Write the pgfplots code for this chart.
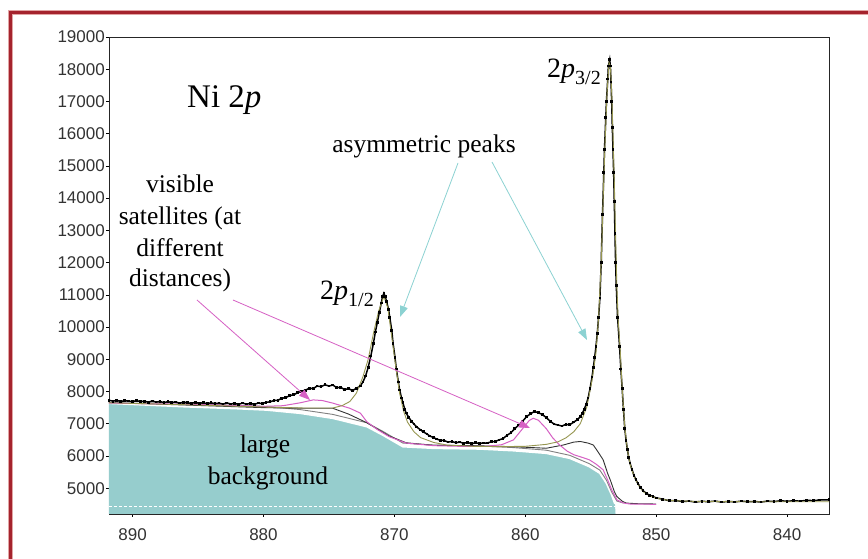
\documentclass[border=0pt]{standalone}
\usepackage{fontspec}
\setmainfont{Liberation Serif}
\newfontfamily\tickfont{Liberation Sans}
\usepackage{pgfplots}
\pgfplotsset{compat=1.18}
\usetikzlibrary{arrows.meta}
\definecolor{bgteal}{RGB}{150,205,205}
\definecolor{fitolive}{RGB}{150,150,80}
\definecolor{satmag}{RGB}{214,96,196}
\definecolor{arrcyan}{RGB}{140,210,210}
\definecolor{frame}{RGB}{165,35,45}
\definecolor{framelt}{RGB}{225,165,165}

\pgfplotstableread{
x y
891.8 7730
891.5 7700
891.2 7725
890.9 7690
890.6 7715
890.3 7705
890.0 7680
889.7 7720
889.4 7685
889.1 7700
888.8 7670
888.5 7705
888.2 7675
887.9 7690
887.6 7655
887.3 7685
887.0 7660
886.7 7675
886.4 7640
886.1 7670
885.8 7650
885.5 7635
885.2 7665
884.9 7630
884.6 7655
884.3 7620
884.0 7650
883.7 7625
883.4 7640
883.1 7610
882.8 7645
882.5 7615
882.2 7630
881.9 7600
881.6 7640
881.3 7610
881.0 7630
880.7 7605
880.4 7640
880.1 7625
879.8 7665
879.5 7680
879.2 7720
878.9 7730
878.6 7790
878.3 7810
878.0 7870
877.7 7900
877.4 7960
877.1 8010
876.8 8040
876.5 8100
876.2 8090
875.9 8170
875.6 8150
875.3 8210
875.0 8170
874.7 8200
874.4 8120
874.1 8130
873.8 8060
873.5 8090
873.2 8030
872.9 8100
872.6 8170
872.4 8300
872.2 8480
872.0 8750
871.8 9100
871.6 9500
871.45 9850
871.3 10150
871.15 10450
871.0 10750
870.9 10950
870.8 11050
870.7 10950
870.6 10800
870.45 10550
870.35 10300
870.2 9900
870.1 9500
869.95 9050
869.85 8700
869.7 8300
869.6 8050
869.45 7800
869.35 7650
869.2 7450
869.1 7330
868.9 7200
868.7 7080
868.5 6990
868.3 6900
868.0 6810
867.8 6750
867.5 6680
867.3 6620
867.0 6570
866.8 6530
866.5 6490
866.2 6480
865.9 6430
865.6 6450
865.3 6410
865.0 6430
864.7 6395
864.4 6420
864.1 6380
863.8 6410
863.5 6385
863.2 6405
862.9 6400
862.6 6440
862.3 6450
862.0 6500
861.7 6540
861.4 6640
861.1 6720
860.8 6850
860.5 6960
860.2 7080
859.9 7220
859.6 7310
859.3 7380
859.0 7340
858.7 7290
858.4 7190
858.1 7080
857.8 6990
857.5 6960
857.2 6930
856.9 6980
856.6 6970
856.3 7050
856.0 7130
855.8 7220
855.65 7320
855.5 7450
855.35 7600
855.2 7800
855.05 8100
854.9 8450
854.8 8750
854.7 9050
854.6 9400
854.5 9800
854.4 10300
854.3 10900
854.2 12000
854.1 13500
854.0 14800
853.95 15500
853.85 16500
853.8 17000
853.7 17700
853.65 18100
853.55 18300
853.5 18100
853.45 17600
853.4 17000
853.35 16200
853.3 15500
853.25 14800
853.2 13900
853.15 12900
853.1 12000
853.05 11300
852.95 10300
852.8 9400
852.7 8700
852.6 8100
852.5 7450
852.4 6850
852.3 6480
852.2 6200
852.1 5960
852.0 5780
851.85 5580
851.7 5400
851.55 5260
851.4 5150
851.2 5020
851.0 4920
850.75 4840
850.5 4780
850.25 4740
850.0 4700
849.5 4660
849.0 4610
848.5 4620
848.0 4585
847.5 4600
847.0 4570
846.5 4595
846.0 4580
845.5 4600
845.0 4570
844.5 4590
844.0 4575
843.5 4600
843.0 4580
842.5 4590
842.0 4570
841.5 4600
841.0 4585
840.5 4610
840.0 4595
839.5 4610
839.0 4600
838.5 4625
838.0 4615
837.5 4635
836.8 4640
}\dataspec

\pgfplotstableread{
x y
891.8 7650
885 7580
880 7520
877 7490
874.7 7490
874.0 7560
873.4 7690
872.9 7950
872.4 8460
872.0 9000
871.6 9800
871.2 10500
870.8 10950
870.5 10600
870.2 9700
869.9 8800
869.6 7950
869.3 7400
869.0 7050
868.5 6750
868.0 6570
867.0 6420
866.0 6340
864.0 6300
862.0 6290
860.0 6300
858.4 6360
857.5 6440
856.9 6560
856.3 6750
855.8 7000
855.3 7520
854.9 8350
854.6 9200
854.4 10300
854.2 12000
854.05 14000
853.9 15800
853.75 17300
853.6 18200
853.5 18100
853.4 17300
853.3 16000
853.2 14500
853.1 12800
853.0 11200
852.9 10200
852.75 9300
852.6 8100
852.4 6900
852.2 6200
852.0 5750
851.7 5380
851.4 5130
851.0 4900
850.5 4760
850.0 4690
849.0 4620
847.0 4590
843.0 4580
839.0 4580
836.8 4580
}\fitenv

\pgfplotstableread{
x y
891.8 7640
885 7600
880 7540
878.5 7560
877.2 7650
876.2 7740
875.5 7720
874.7 7640
873.4 7480
872.6 7330
872.1 7060
871.3 6820
870.4 6600
869.1 6400
867 6320
865 6300
863 6300
861.8 6350
860.9 6500
860.2 6850
859.7 7100
859.4 7170
859.0 7110
858.4 6850
857.9 6560
857.4 6350
856.8 6150
856.3 6040
855.6 5950
855.1 5880
854.6 5750
854.05 5570
853.7 5250
853.4 4950
853.0 4640
852.5 4540
852.0 4510
850.0 4500
}\satline

\pgfplotstableread{
x y
891.8 7660
880 7500
877 7480
874.7 7480
873.5 7300
872.1 7030
870.4 6620
869.1 6410
867 6330
864 6320
861 6290
858.4 6240
857.1 6340
856.3 6430
855.8 6450
855.2 6400
854.8 6340
854.4 6100
854.05 5880
853.7 5450
853.5 5250
853.2 4900
853.0 4740
852.6 4600
852.3 4540
851.5 4520
850.0 4510
}\tailline

\pgfplotstableread{
x y
891.8 7637
886 7530
882 7470
879.8 7429
877.2 7327
874.7 7171
872.1 6911
870.9 6653
869.35 6290
867.0 6241
863.5 6220
860.9 6166
858.4 6086
856.6 5930
855.1 5670
854.3 5465
853.8 5155
853.4 4792
853.15 4513
}\bgedge

\pgfplotstableread{
x y
891.8 4150
891.8 7637
886 7530
882 7470
879.8 7429
877.2 7327
874.7 7171
872.1 6911
870.9 6653
869.35 6290
867.0 6241
863.5 6220
860.9 6166
858.4 6086
856.6 5930
855.1 5670
854.3 5465
853.8 5155
853.4 4792
853.15 4513
853.1 4150
}\bgfill

\pgfplotstableread{
x y
891.8 7720
880 7540
877.2 7440
874.7 7290
872.1 7030
870.9 6770
869.35 6400
867.0 6340
863.5 6310
860.9 6260
858.4 6180
856.6 6020
855.1 5760
854.3 5560
853.8 5250
853.4 4880
853.0 4600
852.5 4540
}\grayline

\pgfplotstableread{
x y
891.8 4430
845.0 4430
}\dashline

\begin{document}
\begin{tikzpicture}[x=1pt,y=1pt]
\path[use as bounding box] (0,0) rectangle (868,559);
\fill[white] (0,0) rectangle (868,559);
\begin{axis}[
  at={(109pt,45pt)}, anchor=south west,
  scale only axis, width=720pt, height=477pt,
  x dir=reverse,
  xmin=836.8, xmax=891.8, ymin=4200, ymax=19000,
  xtick={840,850,...,890}, ytick={5000,6000,...,19000},
  xtick pos=bottom, ytick pos=left,
  axis line style={black!85, line width=0.8pt},
  tick align=outside, major tick length=3pt,
  tick style={black, line width=0.6pt},
  scaled y ticks=false, scaled x ticks=false,
  /pgf/number format/assume math mode=true,
  /pgf/number format/1000 sep={},
  ticklabel style={font=\tickfont\fontsize{17}{20}\selectfont, text=black!80},
  yticklabel style={inner sep=1pt},
  xticklabel style={inner sep=1pt, yshift=-10pt},
]
\addplot[fill=bgteal, draw=none] table {\bgfill};
\addplot[draw=white, densely dashed, line width=0.8pt] table {\dashline};
\addplot[draw=white, line width=1.8pt] table {\bgedge};
\addplot[draw=gray, line width=0.9pt] table {\grayline};
\addplot[draw=black!80, line width=0.9pt] table {\tailline};
\addplot[draw=satmag, line width=1.0pt] table {\satline};
\addplot[draw=black, line width=1.5pt, mark=square*, mark size=0.6pt, mark options={solid}] table {\dataspec};
\addplot[draw=fitolive, line width=0.9pt] table {\fitenv};
\end{axis}

% frame
\draw[framelt, line width=4.8pt] (10.5,0) -- (10.5,546.5) -- (868,546.5);
\draw[frame, line width=3pt] (10.5,0) -- (10.5,546.5) -- (868,546.5);

% annotations
\node[anchor=base west, inner sep=0pt, font=\fontsize{33}{38}\selectfont] at (187,451) {Ni 2\textit{p}};
\node[anchor=base west, inner sep=0pt] at (320,259) {\fontsize{28}{32}\selectfont 2\textit{p}\raisebox{-0.22em}{\fontsize{20}{24}\selectfont 1/2}};
\node[anchor=base west, inner sep=0pt] at (547,481) {\fontsize{28}{32}\selectfont 2\textit{p}\raisebox{-0.22em}{\fontsize{20}{24}\selectfont 3/2}};
\node[anchor=base, inner sep=0pt, font=\fontsize{25.5}{30}\selectfont] at (424,406) {asymmetric peaks};
\begin{scope}[every node/.style={anchor=base, inner sep=0pt, font=\fontsize{25.5}{30}\selectfont}]
\node at (180,366) {visible};
\node at (180,334) {satellites (at};
\node at (180,302) {different};
\node at (180,272) {distances)};
\node at (265,106) {large};
\node at (268,74) {background};
\end{scope}

\draw[arrcyan, line width=0.8pt, -{Triangle[length=11pt,width=8pt]}] (458,396) -- (400,242);
\draw[arrcyan, line width=0.8pt, -{Triangle[length=11pt,width=8pt]}] (492,397) -- (587,219);
\draw[satmag, line width=0.8pt, -{Triangle[length=11pt,width=8pt]}] (197,259) -- (310,159);
\draw[satmag, line width=0.8pt, -{Triangle[length=11pt,width=8pt]}] (233,259) -- (530,131);
\end{tikzpicture}
\end{document}
